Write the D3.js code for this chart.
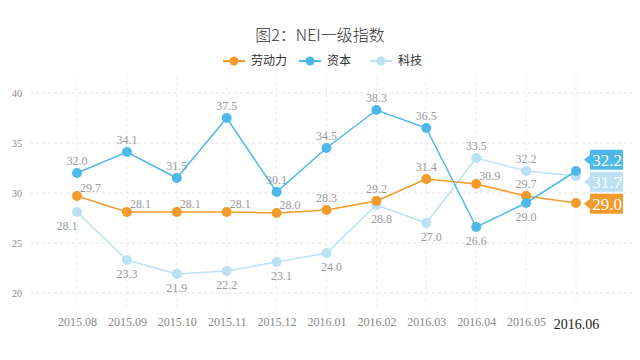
<!DOCTYPE html>
<html><head><meta charset="utf-8">
<script src="https://cdn.jsdelivr.net/npm/d3@7"></script>
<style>body{margin:0;background:#fff}svg{display:block}</style>
</head><body><svg id="c" width="640" height="360"></svg>
<script>
const categories = ["2015.08","2015.09","2015.10","2015.11","2015.12","2016.01","2016.02","2016.03","2016.04","2016.05","2016.06"];
const laborValues = [29.7,28.1,28.1,28.1,28.0,28.3,29.2,31.4,30.9,29.7,29.0];
const capitalValues = [32.0,34.1,31.5,37.5,30.1,34.5,38.3,36.5,26.6,29.0,32.2];
const techValues = [28.1,23.3,21.9,22.2,23.1,24.0,28.8,27.0,33.5,32.2,31.7];
const seriesNames = ["劳动力","资本","科技"];
const yTicks = [20,25,30,35,40];

const colors = ["#F39A2C","#4DB9E8","#BCE1F4"];
const series = [
  {name:seriesNames[0], values:laborValues, color:colors[0]},
  {name:seriesNames[1], values:capitalValues, color:colors[1]},
  {name:seriesNames[2], values:techValues, color:colors[2]}
];
// label placement per series: default pos and exceptions
const labelPos = [
  laborValues.map((v,i)=> (i>=5 && i!==8) ? "t" : "tr"),
  capitalValues.map((v,i)=> (i===8||i===9) ? "b" : "t"),
  techValues.map((v,i)=> (i===8||i===9) ? "t" : (i===0 ? "bl" : (i>=4 ? "br" : "b")))
];

const svg = d3.select("#c");
const x = d3.scalePoint().domain(categories).range([77,576]);
const y = d3.scaleLinear().domain([20,40]).range([293,93]);
const serif = "'Liberation Serif','DejaVu Serif',serif";
const sans = "'Noto Sans CJK SC','Noto Sans',sans-serif";

// vertical grid
svg.append("g").selectAll("line").data(categories).join("line")
  .attr("x1",d=>x(d)).attr("x2",d=>x(d)).attr("y1",76).attr("y2",306)
  .attr("stroke","#ececec").attr("stroke-dasharray","3,3");
// horizontal grid + y axis
const yAxis = d3.axisLeft(y).tickValues(yTicks).tickSize(0).tickPadding(0);
const yg = svg.append("g").attr("transform","translate(22,0)").call(yAxis);
yg.select(".domain").remove();
yg.selectAll("text").attr("font-family",serif).attr("font-size",10).attr("fill","#888").attr("dy","0.32em");
svg.append("g").selectAll("line").data(yTicks).join("line")
  .attr("x1",30).attr("x2",632).attr("y1",d=>y(d)).attr("y2",d=>y(d))
  .attr("stroke","#e6e6e6").attr("stroke-dasharray","3,3");

// x axis
const xAxis = d3.axisBottom(x).tickSize(0).tickPadding(0);
const xg = svg.append("g").attr("transform","translate(0,322)").call(xAxis);
xg.select(".domain").remove();
xg.selectAll("text").attr("font-family",serif).attr("font-size",12).attr("fill","#888").attr("dy","0.32em")
  .filter((d,i)=>i===categories.length-1).attr("font-size",14).attr("fill","#222").attr("dy","0.5em");

// title
svg.append("text").attr("x",320).attr("y",41).attr("text-anchor","middle")
  .attr("font-family",sans).attr("font-size",16).attr("font-weight",300).attr("fill","#333").text("图2：NEI一级指数");

// legend
const legX = [223,299,370];
const leg = svg.append("g").selectAll("g").data(series).join("g")
  .attr("transform",(d,i)=>`translate(${legX[i]},61)`);
leg.append("line").attr("x1",0).attr("x2",22).attr("stroke",d=>d.color).attr("stroke-width",2);
leg.append("circle").attr("cx",11).attr("r",4.5).attr("fill",d=>d.color);
leg.append("text").attr("x",28).attr("dy","0.35em").attr("font-family",sans).attr("font-size",12).attr("fill","#333").text(d=>d.name);

// lines
const line = d3.line().x((d,i)=>x(categories[i])).y(d=>y(d));
const drawOrder = [2,0,1];
drawOrder.forEach(si=>{
  const s = series[si];
  const g = svg.append("g");
  g.append("path").attr("d",line(s.values)).attr("fill","none").attr("stroke",s.color).attr("stroke-width",1.5);
  g.selectAll("circle").data(s.values).join("circle")
    .attr("cx",(d,i)=>x(categories[i])).attr("cy",d=>y(d)).attr("r",5).attr("fill",s.color);
});
// value labels (except last)
const dxMap = {tr:3, bl:-10, br:5, t:0, b:0};
series.forEach((s,si)=>{
  svg.append("g").selectAll("text").data(s.values.slice(0,-1)).join("text")
    .attr("x",(d,i)=>x(categories[i]) + dxMap[labelPos[si][i]])
    .attr("y",(d,i)=>{const p=labelPos[si][i];return y(d) + (p.startsWith("b")?18:(p==="tr"?-4:-8));})
    .attr("text-anchor",(d,i)=>labelPos[si][i]==="tr"?"start":"middle")
    .attr("font-family",serif).attr("font-size",12).attr("fill","#999")
    .text(d=>d.toFixed(1));
});

// end labels
const last = categories.length-1;
const ends = series.map(s=>({s, v:s.values[last], y:y(s.values[last])})).sort((a,b)=>a.y-b.y);
const gap = 22;
for(let k=0;k<20;k++){
  for(let i=1;i<ends.length;i++){
    const d = ends[i].y-ends[i-1].y;
    if(d<gap){const sh=(gap-d)/2; ends[i-1].y-=sh+0.5; ends[i].y+=sh-0.5;}
  }
}
const eg = svg.append("g").selectAll("g").data(ends).join("g")
  .attr("transform",d=>`translate(${x(categories[last])+8},${d.y})`);
eg.append("path").attr("d","M0,0 L6,-5 L6,-9 Q6,-10 7,-10 L38,-10 Q39,-10 39,-9 L39,9 Q39,10 38,10 L7,10 Q6,10 6,9 L6,5 Z")
  .attr("fill",d=>d.s.color);
eg.append("text").attr("x",23).attr("dy","0.36em").attr("text-anchor","middle")
  .attr("font-family",serif).attr("font-size",17).attr("fill","#fff").text(d=>d.v.toFixed(1));
</script></body></html>
